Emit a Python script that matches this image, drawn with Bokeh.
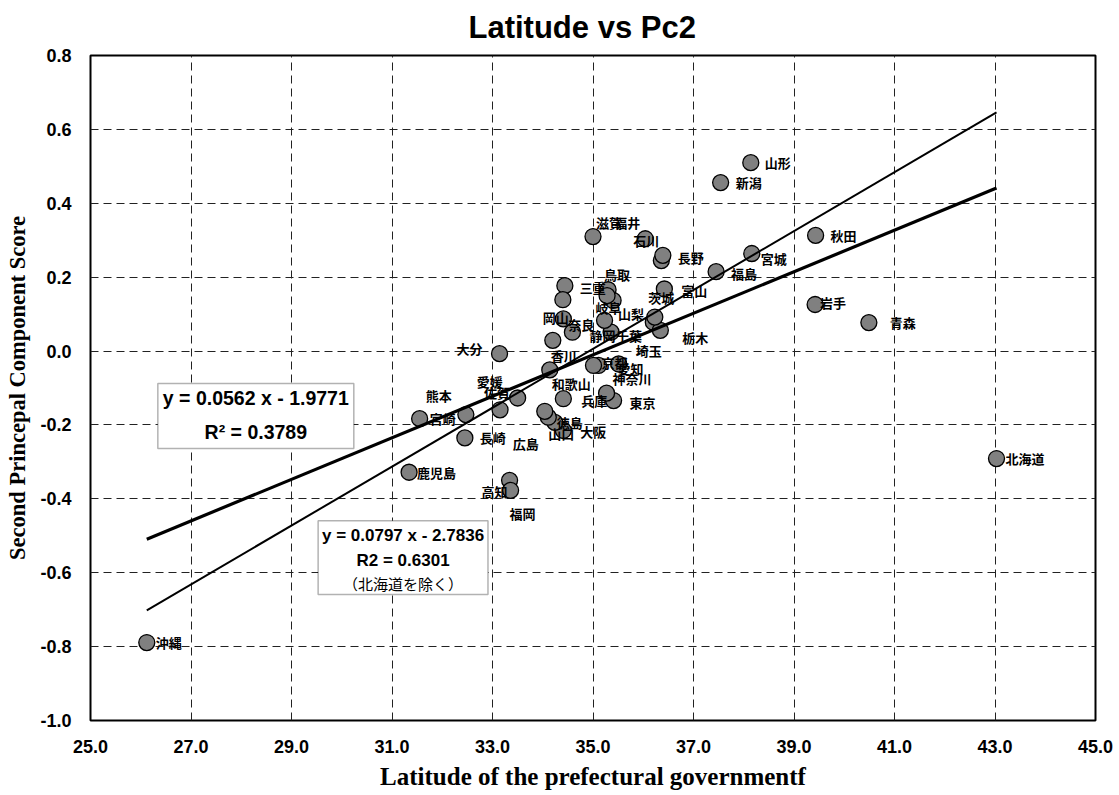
from bokeh.plotting import figure
from bokeh.models import Range1d, FixedTicker, PrintfTickFormatter, ColumnDataSource, BoxAnnotation, Label
from bokeh.embed import file_html
from bokeh.resources import INLINE
from bokeh.core.properties import value

# ---------------- data ----------------
prefectures = ["北海道", "青森", "岩手", "宮城", "秋田", "山形", "福島", "茨城", "栃木", "群馬",
               "埼玉", "千葉", "東京", "神奈川", "新潟", "富山", "石川", "福井", "山梨", "長野",
               "岐阜", "静岡", "愛知", "三重", "滋賀", "京都", "大阪", "兵庫", "奈良", "和歌山",
               "鳥取", "島根", "岡山", "広島", "山口", "徳島", "香川", "愛媛", "高知", "福岡",
               "佐賀", "長崎", "熊本", "大分", "宮崎", "鹿児島", "沖縄"]
latitude = [43.03, 40.49, 39.42, 38.16, 39.43, 38.14, 37.45, 36.20, 36.34, 36.23,
            35.51, 35.36, 35.41, 35.27, 37.54, 36.42, 36.36, 36.04, 35.40, 36.39,
            35.23, 34.59, 35.11, 34.44, 35.00, 35.01, 34.41, 34.41, 34.41, 34.14,
            35.30, 35.28, 34.40, 34.24, 34.11, 34.04, 34.20, 33.50, 33.34, 33.36,
            33.15, 32.45, 32.47, 33.14, 31.55, 31.34, 26.12]
pc2 = [-0.291, 0.077, 0.126, 0.264, 0.313, 0.510, 0.215, 0.078, 0.056, 0.092,
       -0.035, 0.051, -0.134, -0.114, 0.456, 0.168, 0.245, 0.304, 0.137, 0.259,
       0.083, 0.051, -0.039, 0.177, 0.310, -0.039, -0.215, -0.129, 0.087, -0.051,
       0.166, 0.150, 0.139, -0.193, -0.179, -0.163, 0.029, -0.127, -0.350, -0.377,
       -0.159, -0.235, -0.172, -0.007, -0.183, -0.328, -0.789]

x_ticks = [25.0, 27.0, 29.0, 31.0, 33.0, 35.0, 37.0, 39.0, 41.0, 43.0, 45.0]
y_ticks = [-1.0, -0.8, -0.6, -0.4, -0.2, 0.0, 0.2, 0.4, 0.6, 0.8]

fit_all = {"slope": 0.0562, "intercept": -1.9771, "r2": 0.3789}
fit_excl = {"slope": 0.0797, "intercept": -2.7836, "r2": 0.6301}

title_text = "Latitude vs Pc2"
x_title = "Latitude of the prefectural governmentf"
y_title = "Second Princepal Component Score"

# ---------------- label placement (screen px offsets, layout only) ----------------
label_offsets = {
    "北海道": (9, 0), "青森": (21, 0), "岩手": (5, -2), "宮城": (9, 5), "秋田": (15, 0),
    "山形": (14, 0), "福島": (15, 2), "茨城": (-5, -25), "栃木": (22, 7), "埼玉": (17, -13),
    "千葉": (5, 3), "東京": (16, 2), "神奈川": (6, -15), "新潟": (15, 0), "富山": (17, 2),
    "石川": (-28, -20), "福井": (-31, -16), "山梨": (5, 13), "長野": (15, 2), "岐阜": (-9, -13),
    "静岡": (17, 3), "愛知": (19, 3), "三重": (15, 2), "滋賀": (3, -14), "京都": (8, -3),
    "大阪": (17, 1), "兵庫": (18, 2), "奈良": (5, 6), "和歌山": (2, 14), "鳥取": (-4, -15),
    "岡山": (-20, 18), "広島": (-42, 21), "山口": (0, 16), "徳島": (12, 11), "香川": (-2, 15),
    "愛媛": (-41, -16), "高知": (-28, 11), "福岡": (-1, 23), "佐賀": (-16, -17), "長崎": (15, 0),
    "熊本": (-40, -19), "大分": (-43, -5), "宮崎": (10, 0), "鹿児島": (8, 0), "沖縄": (9, 0),
}
hidden_labels = {"群馬", "島根"}

# ---------------- figure ----------------
p = figure(width=1119, height=795, output_backend="svg", toolbar_location=None,
           x_range=Range1d(25, 45), y_range=Range1d(-1.0, 0.8),
           min_border_left=90, min_border_right=24, min_border_top=55, min_border_bottom=75,
           title=title_text)
p.background_fill_color = "white"
p.border_fill_color = "white"
p.outline_line_color = "black"
p.outline_line_width = 2

p.title.align = "left"
p.title.offset = 378
p.title.vertical_align = "top"
p.title.standoff = 17
p.title.text_font = "Liberation Sans"
p.title.text_font_size = "31px"
p.title.text_font_style = "bold"
p.title.text_color = "black"

for ax in (p.xaxis[0], p.yaxis[0]):
    ax.axis_line_color = None
    ax.major_tick_line_color = None
    ax.minor_tick_line_color = None
    ax.major_tick_out = 0
    ax.major_tick_in = 0
    ax.major_label_text_font = "Liberation Sans"
    ax.major_label_text_font_style = "bold"
    ax.major_label_text_font_size = "18px"
    ax.major_label_text_color = "black"
    ax.formatter = PrintfTickFormatter(format="%.1f")
    ax.axis_label_text_font = "Liberation Serif"
    ax.axis_label_text_font_style = "bold"
    ax.axis_label_text_color = "black"

p.xaxis.ticker = FixedTicker(ticks=x_ticks)
p.yaxis.ticker = FixedTicker(ticks=y_ticks)
p.xaxis.axis_label = x_title
p.yaxis.axis_label = y_title
p.xaxis.axis_label_text_font_size = "25px"
p.yaxis.axis_label_text_font_size = "22.5px"
p.xaxis.major_label_standoff = 19
p.xaxis.axis_label_standoff = 7
p.yaxis.major_label_standoff = 19
p.yaxis.axis_label_standoff = 7

for g in (p.xgrid[0], p.ygrid[0]):
    g.grid_line_color = "#222222"
    g.grid_line_width = 1
    g.grid_line_dash = "8 5"
p.xgrid.ticker = FixedTicker(ticks=x_ticks[1:-1])
p.ygrid.ticker = FixedTicker(ticks=y_ticks[1:-1])

# points
src = ColumnDataSource(dict(
    x=latitude, y=pc2,
    name=[("" if n in hidden_labels else n) for n in prefectures],
    dx=[label_offsets.get(n, (10, 0))[0] for n in prefectures],
    dy=[label_offsets.get(n, (10, 0))[1] for n in prefectures],
))
p.scatter("x", "y", source=src, size=16, fill_color="#808080", line_color="black", line_width=1.3)

# trend lines
x0, x1 = min(latitude), max(latitude)
p.line([x0, x1], [fit_all["slope"] * x0 + fit_all["intercept"], fit_all["slope"] * x1 + fit_all["intercept"]],
       line_color="black", line_width=3.2)
p.line([x0, x1], [fit_excl["slope"] * x0 + fit_excl["intercept"], fit_excl["slope"] * x1 + fit_excl["intercept"]],
       line_color="black", line_width=2)

# point labels
p.text("x", "y", text="name", source=src, x_offset="dx", y_offset="dy",
       text_font=value("Noto Sans CJK JP"), text_font_size="13px", text_font_style="bold",
       text_color="black", text_align="left", text_baseline="middle")

# equation boxes
p.add_layout(BoxAnnotation(left=26.34, right=30.24, top=-0.088, bottom=-0.264,
                           fill_color="white", fill_alpha=1.0, line_color="black", line_width=1.5))
p.add_layout(BoxAnnotation(left=29.53, right=32.91, top=-0.459, bottom=-0.659,
                           fill_color="white", fill_alpha=1.0, line_color="black", line_width=1.5))

eq_font = "Liberation Sans"
p.add_layout(Label(x=28.29, y=-0.128, text=f"y = {fit_all['slope']:.4f} x - {abs(fit_all['intercept']):.4f}",
                   text_align="center", text_baseline="middle", text_font=eq_font,
                   text_font_style="bold", text_font_size="19.5px", text_color="black"))
p.add_layout(Label(x=28.29, y=-0.220, text=f"R² = {fit_all['r2']:.4f}",
                   text_align="center", text_baseline="middle", text_font=eq_font,
                   text_font_style="bold", text_font_size="19.5px", text_color="black"))
p.add_layout(Label(x=31.22, y=-0.499, text=f"y = {fit_excl['slope']:.4f} x - {abs(fit_excl['intercept']):.4f}",
                   text_align="center", text_baseline="middle", text_font=eq_font,
                   text_font_style="bold", text_font_size="17px", text_color="black"))
p.add_layout(Label(x=31.22, y=-0.567, text=f"R2 = {fit_excl['r2']:.4f}",
                   text_align="center", text_baseline="middle", text_font=eq_font,
                   text_font_style="bold", text_font_size="17px", text_color="black"))
p.add_layout(Label(x=31.22, y=-0.629, text="（北海道を除く）",
                   text_align="center", text_baseline="middle", text_font="Noto Sans CJK JP",
                   text_font_size="15px", text_color="black"))

open("out.html", "w").write(file_html(p, INLINE))
